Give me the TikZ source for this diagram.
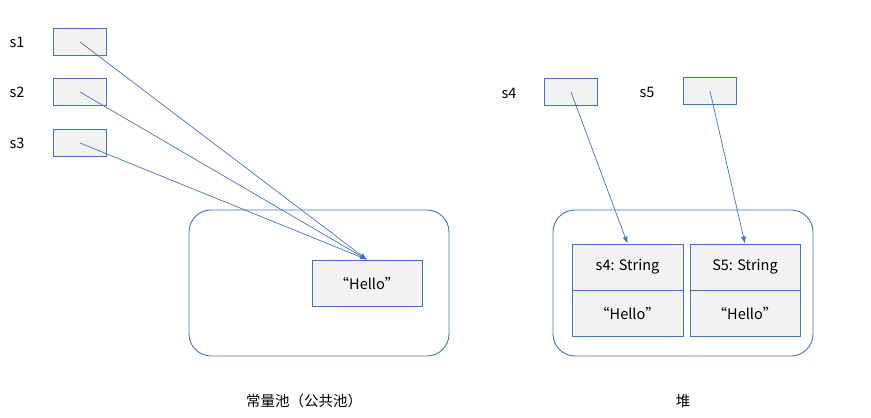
\documentclass[tikz,border=0pt]{standalone}
\usepackage{fontspec}
\setmainfont{Noto Sans CJK SC}
\usetikzlibrary{arrows.meta}
\definecolor{lineblue}{HTML}{4472C4}
\definecolor{boxgray}{HTML}{F2F2F2}
\tikzset{
  ref/.style={draw=lineblue,line width=0.8pt,fill=boxgray,minimum width=53pt,minimum height=27pt,inner sep=0pt},
  cell/.style={draw=lineblue,line width=0.8pt,fill=boxgray,minimum width=110pt,minimum height=46pt,inner sep=0pt,font=\fontsize{14.5}{17}\selectfont},
  pool/.style={draw=lineblue,line width=0.9pt,rounded corners=22pt},
  ptr/.style={-{Latex[length=7pt,width=5pt]},draw=lineblue,line width=0.7pt},
  lbl/.style={font=\fontsize{14.5}{17}\selectfont,inner sep=0pt}
}
\begin{document}
\begin{tikzpicture}[x=1pt,y=-1pt]
  \useasboundingbox (0,0) rectangle (871,418);
  % constant pool
  \draw[pool] (189,210) rectangle (449,356);
  \node[cell] (hello) at (367,283) {“Hello”};
  \foreach \i/\y in {1/42,2/92,3/143}{
    \node[lbl] (s\i) at (17,\y) {s\i};
    \node[ref] (r\i) at (80,\y) {};
    \draw[ptr] (r\i.center) -- (hello.north);
  }
  % heap
  \draw[pool] (553,210) rectangle (813,356);
  \node[cell,minimum width=111pt] (str4) at (627.5,267) {s4: String};
  \node[cell,minimum width=111pt] (val4) at (627.5,313) {“Hello”};
  \node[cell] (str5) at (745,267) {S5: String};
  \node[cell] (val5) at (745,313) {“Hello”};
  \node[lbl] (s4) at (509,93) {s4};
  \node[ref] (r4) at (571,92) {};
  \node[lbl] (s5) at (647,92) {s5};
  \node[ref] (r5) at (710,91) {};
  \draw[ptr] (r4.center) -- (str4.north);
  \draw[ptr] (r5.center) -- (str5.north);
  \node[lbl] (poolname) at (304,401) {常量池（公共池）};
  \node[lbl] (heapname) at (683,401) {堆};
\end{tikzpicture}
\end{document}
